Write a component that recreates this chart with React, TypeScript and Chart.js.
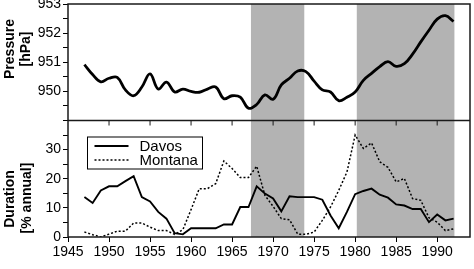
import React, { useEffect, useRef } from 'react';
import { Chart, registerables } from 'chart.js';

Chart.register(...registerables);

// ---- data ----
const years = [
  1947, 1948, 1949, 1950, 1951, 1952, 1953, 1954, 1955, 1956,
  1957, 1958, 1959, 1960, 1961, 1962, 1963, 1964, 1965, 1966,
  1967, 1968, 1969, 1970, 1971, 1972, 1973, 1974, 1975, 1976,
  1977, 1978, 1979, 1980, 1981, 1982, 1983, 1984, 1985, 1986,
  1987, 1988, 1989, 1990, 1991, 1992,
];

const pressure = [
  950.92, 950.58, 950.33, 950.45, 950.48, 950.05, 949.85, 950.15, 950.6, 950.08,
  950.32, 949.98, 950.08, 950.0, 949.97, 950.08, 950.15, 949.75, 949.85, 949.8,
  949.42, 949.55, 949.88, 949.73, 950.22, 950.45, 950.7, 950.68, 950.35, 950.05,
  949.98, 949.68, 949.8, 949.98, 950.38, 950.62, 950.85, 951.02, 950.86, 950.95,
  951.28, 951.7, 952.1, 952.48, 952.6, 952.4,
];

const davos = [
  13.7, 11.7, 16.0, 17.4, 17.4, 19.2, 20.9, 13.7, 12.2, 8.6,
  6.3, 1.3, 0.9, 3.0, 3.0, 3.0, 3.0, 4.3, 4.3, 10.3,
  10.3, 17.4, 14.9, 13.2, 8.8, 14.0, 13.7, 13.7, 13.7, 12.8,
  7.4, 3.0, 8.6, 14.7, 15.8, 16.6, 14.5, 13.5, 11.2, 10.8,
  9.6, 9.6, 5.1, 7.7, 5.7, 6.3,
];

const montana = [
  1.7, 0.8, 0.0, 1.0, 2.0, 2.0, 4.8, 4.8, 3.4, 2.2,
  2.2, 0.9, 2.5, 9.4, 16.6, 16.6, 18.3, 26.1, 23.5, 20.4,
  20.4, 24.3, 14.3, 10.5, 6.3, 5.9, 1.0, 0.9, 1.7, 5.7,
  10.3, 16.0, 22.3, 35.0, 30.4, 32.3, 25.8, 23.9, 18.9, 20.1,
  13.2, 12.6, 6.6, 5.1, 2.2, 2.8,
];

const shadeStarts = [1967.3, 1980.2];
const shadeEnds = [1973.8, 1992.1];

const xMin = 1945;
const xMax = 1994;
const xStep = 5;
const pressureMin = 949;
const pressureMax = 953;
const durationMin = 0;
const durationMax = 40;

const seriesLabels = ['Pressure', 'Davos', 'Montana'];
const topTitle = ['Pressure', '[hPa]'];
const bottomTitle = ['Duration', '[% annual]'];

const FONT = '"Liberation Sans", Arial, Helvetica, sans-serif';

const toPoints = (vals: number[]) => years.map((y, i) => ({ x: y, y: vals[i] }));

const decorPlugin = {
  id: 'decor',
  beforeDatasetsDraw(chart: any) {
    const { ctx, chartArea, scales } = chart;
    const x = scales.x;
    ctx.save();
    ctx.fillStyle = '#b3b3b3';
    for (let i = 0; i < shadeStarts.length; i++) {
      const x0 = x.getPixelForValue(shadeStarts[i]);
      const x1 = x.getPixelForValue(shadeEnds[i]);
      ctx.fillRect(x0, chartArea.top, x1 - x0, chartArea.bottom - chartArea.top);
    }
    ctx.restore();
  },
  afterDatasetsDraw(chart: any) {
    const { ctx, chartArea, scales } = chart;
    const x = scales.x;
    const yP = scales.yP;
    const yD = scales.yD;
    ctx.save();
    // frame
    ctx.strokeStyle = '#1a1a1a';
    ctx.lineWidth = 1.5;
    ctx.strokeRect(chartArea.left, chartArea.top, chartArea.right - chartArea.left, chartArea.bottom - chartArea.top);
    // divider
    const dy = yP.getPixelForValue(pressureMin);
    ctx.beginPath();
    ctx.moveTo(chartArea.left, dy);
    ctx.lineTo(chartArea.right, dy);
    ctx.stroke();
    // ticks below divider
    ctx.lineWidth = 1;
    x.ticks.forEach((t: any) => {
      const px = x.getPixelForValue(t.value);
      if (px <= chartArea.left + 1) return;
      ctx.beginPath();
      ctx.moveTo(px, dy);
      ctx.lineTo(px, dy + 5);
      ctx.stroke();
    });
    // legend
    const lx = chartArea.left + 19.5;
    const ly = yD.top + 16.5;
    ctx.fillStyle = '#fff';
    ctx.fillRect(lx, ly, 115, 32);
    ctx.strokeStyle = '#000';
    ctx.lineWidth = 1;
    ctx.strokeRect(lx, ly, 115, 32);
    ctx.beginPath();
    ctx.lineWidth = 2;
    ctx.moveTo(lx + 7, ly + 9);
    ctx.lineTo(lx + 41, ly + 9);
    ctx.stroke();
    ctx.beginPath();
    ctx.lineWidth = 1.5;
    ctx.setLineDash([2, 2]);
    ctx.moveTo(lx + 7, ly + 23);
    ctx.lineTo(lx + 41, ly + 23);
    ctx.stroke();
    ctx.setLineDash([]);
    ctx.fillStyle = '#000';
    ctx.font = '15px ' + FONT;
    ctx.textAlign = 'left';
    ctx.textBaseline = 'middle';
    ctx.fillText(seriesLabels[1], lx + 52, ly + 10);
    ctx.fillText(seriesLabels[2], lx + 52, ly + 24);
    ctx.restore();
  },
  afterDraw(chart: any) {
    const { ctx } = chart;
    ctx.save();
    ctx.fillStyle = '#000';
    ctx.font = 'bold 14px ' + FONT;
    ctx.textAlign = 'center';
    ctx.textBaseline = 'middle';
    const drawRot = (text: string, cx: number, cy: number) => {
      ctx.save();
      ctx.translate(cx, cy);
      ctx.rotate(-Math.PI / 2);
      ctx.fillText(text, 0, 0);
      ctx.restore();
    };
    drawRot(topTitle[0], 10, 49);
    drawRot(topTitle[1], 26, 49);
    drawRot(bottomTitle[0], 10, 199);
    drawRot(bottomTitle[1], 27, 198);
    ctx.restore();
  },
};

export default function App() {
  const ref = useRef<HTMLCanvasElement | null>(null);

  useEffect(() => {
    if (!ref.current) return;
    const tickFont = { family: FONT, size: 14 };
    const chart = new Chart(ref.current, {
      type: 'line',
      data: {
        datasets: [
          {
            label: seriesLabels[0],
            data: toPoints(pressure),
            yAxisID: 'yP',
            borderColor: '#000',
            borderWidth: 2.8,
            pointRadius: 0,
            tension: 0.4,
            fill: false,
          },
          {
            label: seriesLabels[1],
            data: toPoints(davos),
            yAxisID: 'yD',
            borderColor: '#000',
            borderWidth: 1.9,
            pointRadius: 0,
            tension: 0,
            fill: false,
          },
          {
            label: seriesLabels[2],
            data: toPoints(montana),
            yAxisID: 'yD',
            borderColor: '#000',
            borderWidth: 1.5,
            borderDash: [2, 2],
            pointRadius: 0,
            tension: 0,
            fill: false,
          },
        ],
      },
      options: {
        responsive: false,
        animation: false,
        devicePixelRatio: 1,
        layout: { padding: { top: 4, right: 4, left: 0, bottom: 0 } },
        plugins: { legend: { display: false }, tooltip: { enabled: false } },
        scales: {
          x: {
            type: 'linear',
            position: 'bottom',
            min: xMin,
            max: xMax,
            ticks: {
              stepSize: xStep,
              includeBounds: false,
              autoSkip: false,
              maxRotation: 0,
              padding: 2,
              color: '#000',
              font: tickFont,
              callback: (v: any) => String(v),
            },
            grid: { drawOnChartArea: false, tickLength: 5, color: '#000', tickColor: '#000' },
            border: { display: false },
            afterFit: (s: any) => {
              s.height = 32;
              s.paddingLeft = 0;
              s.paddingRight = 0;
            },
          },
          yP: {
            type: 'linear',
            position: 'left',
            stack: 'panels',
            stackWeight: 1,
            weight: 2,
            min: pressureMin,
            max: pressureMax,
            ticks: {
              stepSize: 0.5,
              autoSkip: false,
              padding: 2,
              color: '#000',
              font: tickFont,
              callback: (v: any) => (Math.abs(v % 1) < 1e-6 && v !== pressureMin ? String(v) : ''),
            },
            grid: { drawOnChartArea: false, tickLength: 5, color: '#000', tickColor: '#000' },
            border: { display: false },
            afterFit: (s: any) => {
              s.width = 68;
              s.paddingTop = 0;
              s.paddingBottom = 0;
            },
          },
          yD: {
            type: 'linear',
            position: 'left',
            stack: 'panels',
            stackWeight: 1,
            weight: 1,
            min: durationMin,
            max: durationMax,
            ticks: {
              stepSize: 5,
              autoSkip: false,
              padding: 2,
              color: '#000',
              font: tickFont,
              callback: (v: any) => (v % 10 === 0 && v !== durationMax ? String(v) : ''),
            },
            grid: { drawOnChartArea: false, tickLength: 5, color: '#000', tickColor: '#000' },
            border: { display: false },
            afterFit: (s: any) => {
              s.width = 68;
              s.paddingTop = 0;
              s.paddingBottom = 0;
            },
          },
        },
      } as any,
      plugins: [decorPlugin],
    });
    return () => chart.destroy();
  }, []);

  return (
    <div style={{ position: 'fixed', left: 0, top: 0, width: 474, height: 269, background: '#fff' }}>
      <canvas ref={ref} width={474} height={269} style={{ display: 'block' }} />
    </div>
  );
}
